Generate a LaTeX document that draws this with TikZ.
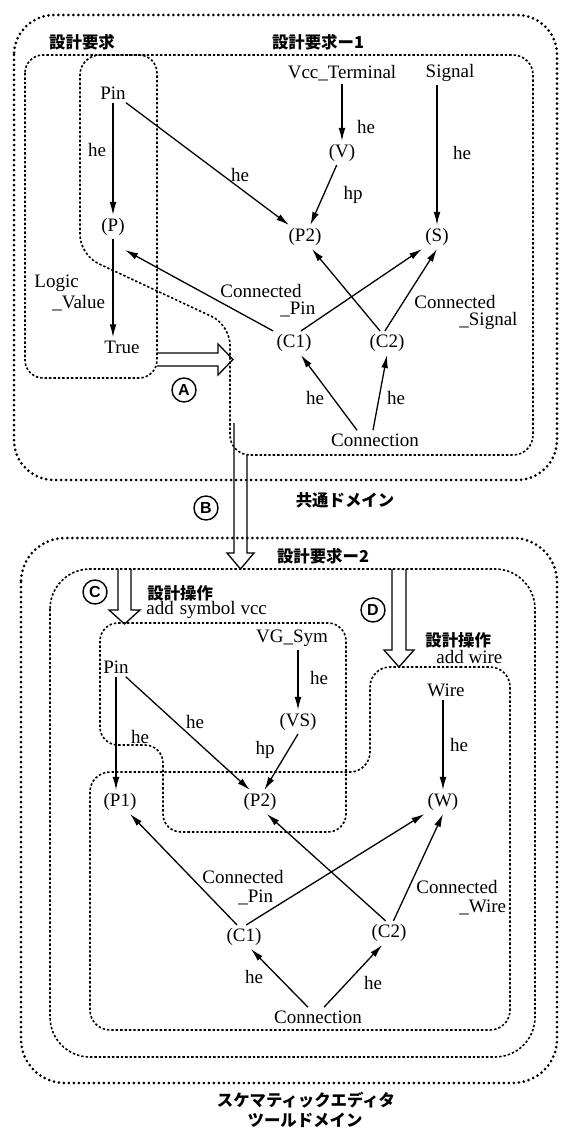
\documentclass[tikz,border=0pt]{standalone}
\usepackage{fontspec}
\setmainfont{Liberation Serif}
\newfontfamily\jp{Noto Sans CJK JP}
\newfontfamily\circf{Liberation Sans}
\usetikzlibrary{arrows.meta,calc}
\begin{document}
\begin{tikzpicture}[x=0.5pt,y=-0.5pt,
  txt/.style={font=\fontsize{9.5}{11}\selectfont, inner sep=1.5pt},
  ml/.style={inner sep=1.5pt, align=left, anchor=west, font=\fontsize{9.5}{#1}\selectfont},
  jtx/.style={font=\jp\bfseries\fontsize{8.2}{10}\selectfont, inner sep=1pt},
  arr/.style={-{Latex[length=6.5pt,width=3.4pt]}, line width=0.65pt},
  heavy/.style={line width=1.5pt, dash pattern=on 0pt off 2.5pt, line cap=round},
  light/.style={line width=0.8pt, dash pattern=on 1.2pt off 1pt},
  hollow/.style={line width=0.65pt, line join=miter},
  circ/.style={circle, draw, line width=0.7pt, minimum size=12pt, inner sep=0pt, font=\circf\bfseries\fontsize{8}{8}\selectfont}
]
\useasboundingbox (0,0) rectangle (561,1129);
\fill[white] (0,0) rectangle (561,1129);

% ---------- regions, top ----------
\draw[heavy,rounded corners=20pt] (14,15) rectangle (557,480);
\draw[light,rounded corners=9pt] (25,55) rectangle (157,378);
\draw[light,rounded corners=10pt] (300,55) -- (533,55) -- (533,455) -- (230,455) -- (230,325) -- (80,255) -- (80,55) -- cycle;

% ---------- regions, bottom ----------
\draw[heavy,rounded corners=22pt] (21,538) rectangle (557,1083);
\draw[light,rounded corners=20pt] (50,569) rectangle (535,1057);
\draw[light,rounded corners=9pt] (220,623) -- (346,623) -- (346,832) -- (163,832) -- (163,745) -- (100,745) -- (100,623) -- cycle;
\draw[light,rounded corners=10pt] (440,667) -- (510,667) -- (510,1030) -- (90,1030) -- (90,772) -- (370,772) -- (370,667) -- cycle;

% ---------- top nodes ----------
\node[jtx] (lk) at (82,42) {設計要求};
\node[jtx] (l1) at (318,42) {設計要求ー1};
\node[txt] (pinA) at (113,93) {Pin};
\node[txt] (pA) at (113,227) {(P)};
\node[txt] (trueA) at (122,347) {True};
\node[ml=10.5pt] (lg) at (31,293) {Logic\\\hspace*{9pt}\_Value};
\node[txt] (vcc) at (342,73) {Vcc\_Terminal};
\node[txt] (sig) at (450,73) {Signal};
\node[txt] (V) at (342,153) {(V)};
\node[txt] (P2a) at (305,237) {(P2)};
\node[txt] (Sa) at (437,237) {(S)};
\node[txt] (C1a) at (294,343) {(C1)};
\node[txt] (C2a) at (387,343) {(C2)};
\node[txt] (conA) at (375,440) {Connection};
\node[txt] (h1) at (97,150) {he};
\node[txt] (h2) at (240,175) {he};
\node[txt] (h3) at (366,127) {he};
\node[txt] (h4) at (462,153) {he};
\node[txt] (hp1) at (353,195) {hp};
\node[ml=8.5pt] (cp) at (217,301) {Connected\\\hspace*{30pt}\_Pin};
\node[ml=8.5pt] (cs) at (411,312) {Connected\\\hspace*{22.5pt}\_Signal};
\node[txt] (h5) at (315,398) {he};
\node[txt] (h6) at (396,398) {he};
\node[jtx] (dom1) at (345,500) {共通ドメイン};
\node[circ] (cA) at (184,390) {A};
\node[circ] (cB) at (206,508) {B};

% ---------- top edges ----------
\draw[arr] (pinA.south) -- (pA.north);
\draw[arr] (pinA) -- (P2a);
\draw[arr] (vcc) -- (V);
\draw[arr] (V) -- (P2a);
\draw[arr] (Sa |- sig.south) -- (Sa.north);
\draw[arr] (pA.south) -- (trueA.north -| pA.south);
\draw[arr] (C1a.north west) -- ($(pA.south east)+(-3,11)$);
\draw[arr] (C1a.60) -- (Sa.south west);
\draw[arr] (C2a.120) -- (P2a.-60);
\draw[arr] (C2a.100) -- (Sa.south);
\draw[arr] ($(conA.north)+(-18,0)$) -- (C1a.-60);
\draw[arr] ($(conA.north)+(-2,0)$) -- (C2a.south);

% hollow arrows A, B
\draw[hollow] (157,353) -- (218,353) -- (218,344) -- (233,359.5) -- (218,375) -- (218,366) -- (157,366);
\draw[hollow] (234,423) -- (234,553) -- (227,553) -- (240.5,569) -- (254,553) -- (247,553) -- (247,455);

% ---------- bottom nodes ----------
\node[jtx] (l2) at (323,556) {設計要求ー2};
\node[circ] (cC) at (95,592) {C};
\node[circ] (cD) at (373,610) {D};
\node[jtx,anchor=west] (op1) at (145,593) {設計操作};
\node[txt,anchor=west] (op1b) at (143,610) {add\hspace{3pt}symbol vcc};
\node[jtx,anchor=west] (op2) at (423,640) {設計操作};
\node[txt,anchor=west] (op2b) at (433,657) {add wire};
\node[txt] (pinB) at (116,667) {Pin};
\node[txt] (vgs) at (292,638) {VG\_Sym};
\node[txt] (VS) at (298,722) {(VS)};
\node[txt] (wire) at (446,690) {Wire};
\node[txt] (P1) at (120,802) {(P1)};
\node[txt] (P2b) at (260,802) {(P2)};
\node[txt] (W) at (443,802) {(W)};
\node[txt] (C1b) at (244,937) {(C1)};
\node[txt] (C2b) at (389,933) {(C2)};
\node[txt] (conB) at (318,1017) {Connection};
\node[txt] (h7) at (140,737) {he};
\node[txt] (h8) at (195,722) {he};
\node[txt] (h9) at (319,678) {he};
\node[txt] (hp2) at (265,750) {hp};
\node[txt] (h10) at (459,745) {he};
\node[ml=9.5pt] (cq) at (199,888) {Connected\\\hspace*{18pt}\_Pin};
\node[ml=9.5pt] (cw) at (413,898) {Connected\\\hspace*{21.5pt}\_Wire};
\node[txt] (h11) at (254,977) {he};
\node[txt] (h12) at (373,983) {he};
\node[jtx] (dom2a) at (306,1100) {スケマティックエディタ};
\node[jtx] (dom2b) at (305,1120) {ツールドメイン};

% ---------- bottom edges ----------
\draw[arr] (pinB.south) -- (pinB.south |- P1.north);
\draw[arr] (pinB.-45) -- (P2b.130);
\draw[arr] (VS.north |- vgs.south) -- (VS.north);
\draw[arr] (VS.south) -- (P2b.70);
\draw[arr] (W.north |- wire.south) -- (W.north);
\draw[arr] (C1b.120) -- (P1.-50);
\draw[arr] (C1b.80) -- (W.south west);
\draw[arr] (C2b.105) -- (P2b.-60);
\draw[arr] (C2b.70) -- (W.south);
\draw[arr] ($(conB.north)+(-10,0)$) -- (C1b.-60);
\draw[arr] ($(conB.north)+(6,0)$) -- (C2b.-120);

% hollow arrows C, D
\draw[hollow] (118,569) -- (118,610) -- (109,610) -- (124.5,624) -- (140,610) -- (131,610) -- (131,569);
\draw[hollow] (392,569) -- (392,650) -- (384,650) -- (399,667) -- (414,650) -- (406,650) -- (406,569);
\end{tikzpicture}
\end{document}
